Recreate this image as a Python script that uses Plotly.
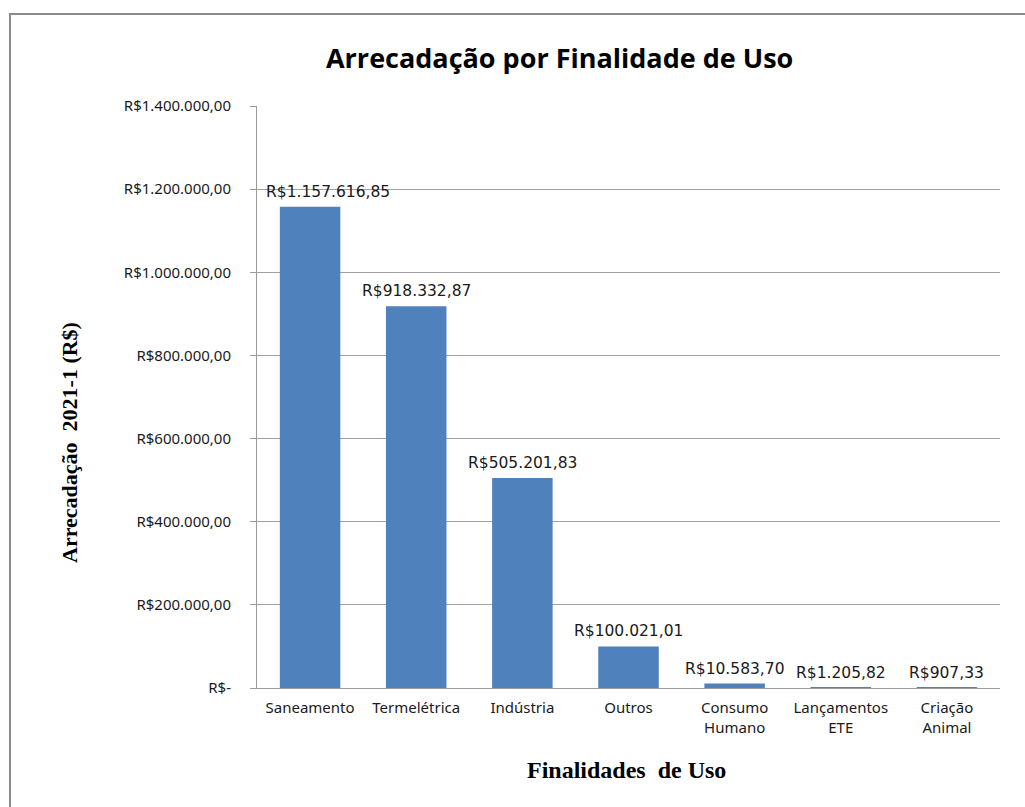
import plotly.graph_objects as go

categories = ["Saneamento", "Termelétrica", "Indústria", "Outros",
              "Consumo<br>Humano", "Lançamentos<br>ETE", "Criação<br>Animal"]
values = [1157616.85, 918332.87, 505201.83, 100021.01, 10583.70, 1205.82, 907.33]
value_labels = ["R$1.157.616,85", "R$918.332,87", "R$505.201,83", "R$100.021,01",
                "R$10.583,70", "R$1.205,82", "R$907,33"]
y_tickvals = [0, 200000, 400000, 600000, 800000, 1000000, 1200000, 1400000]
y_ticktext = ["R$-", "R$200.000,00", "R$400.000,00", "R$600.000,00", "R$800.000,00",
              "R$1.000.000,00", "R$1.200.000,00", "R$1.400.000,00"]

tick_font = dict(family="Noto Sans", size=15, color="#1a1a1a")
data_font = dict(family="DejaVu Sans", size=15.5, color="#1a1a1a")

fig = go.Figure(go.Bar(
    x=categories, y=values,
    marker=dict(color="#4F81BD", line=dict(width=0)),
    hoverinfo="x+y",
))

# Excel nudges the first label right so it stays inside the plot area
label_annotations = [
    dict(x=c, y=v, xref="x", yref="y", text=t, showarrow=False,
         xanchor="center", yanchor="bottom", yshift=4,
         xshift=18 if i == 0 else 0, font=data_font)
    for i, (c, v, t) in enumerate(zip(categories, values, value_labels))
]

fig.update_layout(
    width=1025, height=807,
    margin=dict(l=257, r=25, t=106, b=119),
    paper_bgcolor="white", plot_bgcolor="white",
    bargap=0.43,
    showlegend=False,
    title=dict(text="<b>Arrecadação por Finalidade de Uso</b>",
               font=dict(family="Open Sans", size=27, color="black"),
               x=0.546, xanchor="center", y=0.928, yanchor="middle"),
    xaxis=dict(showline=True, linecolor="#9a9a9a", linewidth=1,
               tickfont=tick_font, ticks="", showgrid=False,
               ticklabelstandoff=6, range=[-0.5, len(categories) - 0.5],
               autorange=False),
    yaxis=dict(range=[0, 1400000], tickvals=y_tickvals, ticktext=y_ticktext,
               showline=True, linecolor="#9a9a9a", linewidth=1,
               showgrid=True, gridcolor="#a0a0a0", gridwidth=1,
               ticks="outside", ticklen=6, tickcolor="#9a9a9a",
               ticklabelstandoff=16, tickfont=tick_font, zeroline=False),
    annotations=label_annotations + [
        dict(text="<b>Arrecadação  2021-1 (R$)</b>", textangle=-90,
             xref="paper", yref="paper", x=-0.2517, y=0.4227,
             xanchor="center", yanchor="middle", showarrow=False,
             font=dict(family="Liberation Serif", size=22, color="black")),
        dict(text="<b>Finalidades\u00a0 de Uso</b>",
             xref="paper", yref="paper", x=0.497, y=-0.141,
             xanchor="center", yanchor="middle", showarrow=False,
             font=dict(family="Liberation Serif", size=24, color="black")),
    ],
    shapes=[dict(type="rect", xref="paper", yref="paper",
                 x0=(10 - 257) / 743, x1=1.06, y0=-0.3, y1=(688 - 14) / 582,
                 line=dict(color="#8a8a8a", width=2))],
)

fig.write_html("out.html", config={"displayModeBar": False},
               post_script="document.body.style.margin='0';")
